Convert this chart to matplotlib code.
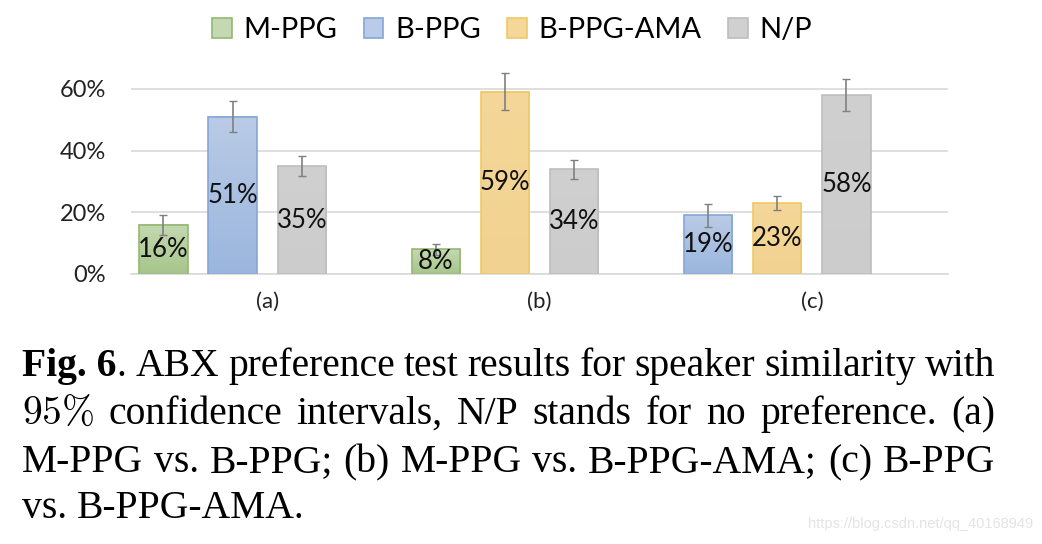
import numpy as np
import matplotlib.pyplot as plt
from matplotlib.colors import LinearSegmentedColormap
from matplotlib.patches import Patch
from matplotlib.ticker import PercentFormatter

plt.rcParams['mathtext.fontset'] = 'cm'

groups = ['(a)', '(b)', '(c)']
series = ['M-PPG', 'B-PPG', 'B-PPG-AMA', 'N/P']

# values in %, None = series not in this comparison
m_ppg = [16, 8, None]
b_ppg = [51, None, 19]
b_ppg_ama = [None, 59, 23]
n_p = [35, 34, 58]

m_ppg_err = [3.2, 1.8, None]
b_ppg_err = [5.1, None, 3.8]
b_ppg_ama_err = [None, 6.0, 2.3]
n_p_err = [3.2, 3.1, 5.2]

values = [m_ppg, b_ppg, b_ppg_ama, n_p]
errors = [m_ppg_err, b_ppg_err, b_ppg_ama_err, n_p_err]

# (top, bottom, edge)
colors = [('#c4d8b1', '#a7c68b', '#93b873'),
          ('#b9cbe6', '#9bb6dd', '#86a6d8'),
          ('#f4d799', '#f2d290', '#f0c966'),
          ('#d0d0d0', '#cccccc', '#bdbdbd')]

W, H = 1042, 544
fig = plt.figure(figsize=(W / 100, H / 100), dpi=100)
ax = fig.add_axes([131 / W, 1 - 274 / H, 817 / W, 216 / H])

sans = 'Lato'
step = 0.254
width = 0.178

# slot of each bar inside its group (present series packed left)
slots = {}
for g in range(len(groups)):
    k = 0
    for s in range(len(series)):
        if values[s][g] is not None:
            slots[(s, g)] = k
            k += 1

for s in range(len(series)):
    xs, vs, es = [], [], []
    for g in range(len(groups)):
        if values[s][g] is None:
            continue
        xs.append(g + (slots[(s, g)] - 1.5) * step)
        vs.append(values[s][g])
        es.append(errors[s][g])
    top, bot, edge = colors[s]
    bars = ax.bar(xs, vs, width, color='none', edgecolor=edge, linewidth=1.2, zorder=3)
    cmap = LinearSegmentedColormap.from_list('g%d' % s, [bot, top])
    grad = np.linspace(1, 0, 64).reshape(-1, 1)
    for p in bars:
        x0 = p.get_x()
        ax.imshow(grad, extent=(x0, x0 + p.get_width(), 0, p.get_height()),
                  cmap=cmap, vmin=0, vmax=1, aspect='auto', zorder=2.5)
    ax.bar_label(bars, labels=['%d%%' % v for v in vs], label_type='center',
                 fontsize=18.5, family=sans, color='#111111', zorder=5)
    ax.errorbar(xs, vs, yerr=es, fmt='none', ecolor='#808080', elinewidth=1.2,
                capsize=3, capthick=1, zorder=4)

ax.set_xlim(-0.5, len(groups) - 0.5)
ax.set_ylim(0, 70)
ax.set_yticks([0, 20, 40, 60])
ax.yaxis.set_major_formatter(PercentFormatter(decimals=0))
ax.set_xticks(range(len(groups)))
ax.set_xticklabels(groups)
ax.tick_params(axis='y', length=0, pad=18, labelsize=17, labelcolor='#222222')
ax.tick_params(axis='x', length=0, pad=13, labelsize=16, labelcolor='#222222')
for lab in ax.get_xticklabels() + ax.get_yticklabels():
    lab.set_family(sans)
ax.grid(axis='y', color='#d9d9d9', linewidth=1.2, zorder=0)
ax.set_axisbelow(True)
for sp in ['top', 'right', 'left']:
    ax.spines[sp].set_visible(False)
ax.spines['bottom'].set_color('#d9d9d9')
ax.spines['bottom'].set_linewidth(1.2)

handles = [Patch(facecolor=c[0], edgecolor=c[2], linewidth=1.2) for c in colors]
fig.legend(handles, series, loc='center', bbox_to_anchor=(512 / W, 1 - 30 / H),
           ncol=4, frameon=False, prop={'family': sans, 'size': 21},
           handlelength=0.68, handleheight=0.68, handletextpad=0.4,
           columnspacing=0.9)

# caption, justified like the paper
serif = 'Liberation Serif'
cap_size = 28.5
renderer = fig.canvas.get_renderer()
left, right = 22, 995


def put(x, y, s, bold=False):
    t = fig.text(x / W, 1 - y / H, s, fontsize=cap_size, family=serif,
                 weight='bold' if bold else 'normal', va='baseline', ha='left')
    return t, t.get_window_extent(renderer).width


def line(words, y, justify=True):
    parts = []
    total = 0
    for w in words:
        pieces = []
        ww = 0
        for s, b in w:
            t, tw = put(0, y, s, b)
            pieces.append((t, tw))
            ww += tw
        parts.append((pieces, ww))
        total += ww
    sw = cap_size * 100 / 72 * 0.25
    gap = (right - left - total) / (len(parts) - 1) if justify else sw
    x = left
    for pieces, ww in parts:
        for t, tw in pieces:
            t.set_x(x / W)
            x += tw
        x += gap


def words(s):
    return [[(w, False)] for w in s.split()]


line([[('Fig. 6', True), ('.', False)]] +
     words('ABX preference test results for speaker similarity with'), 376)
line([[(r'$95\%$', False)]] +
     words('confidence intervals, N/P stands for no preference. (a)'), 424)
line(words('M-PPG vs. B-PPG; (b) M-PPG vs. B-PPG-AMA; (c) B-PPG'), 472)
line(words('vs. B-PPG-AMA.'), 518, justify=False)

fig.text(1033 / W, 1 - 524 / H, 'https://blog.csdn.net/qq_40168949',
         fontsize=10.5, family='Liberation Sans', color='#e4e4e4',
         ha='right', va='center')

fig.savefig('out.png', dpi=100)
